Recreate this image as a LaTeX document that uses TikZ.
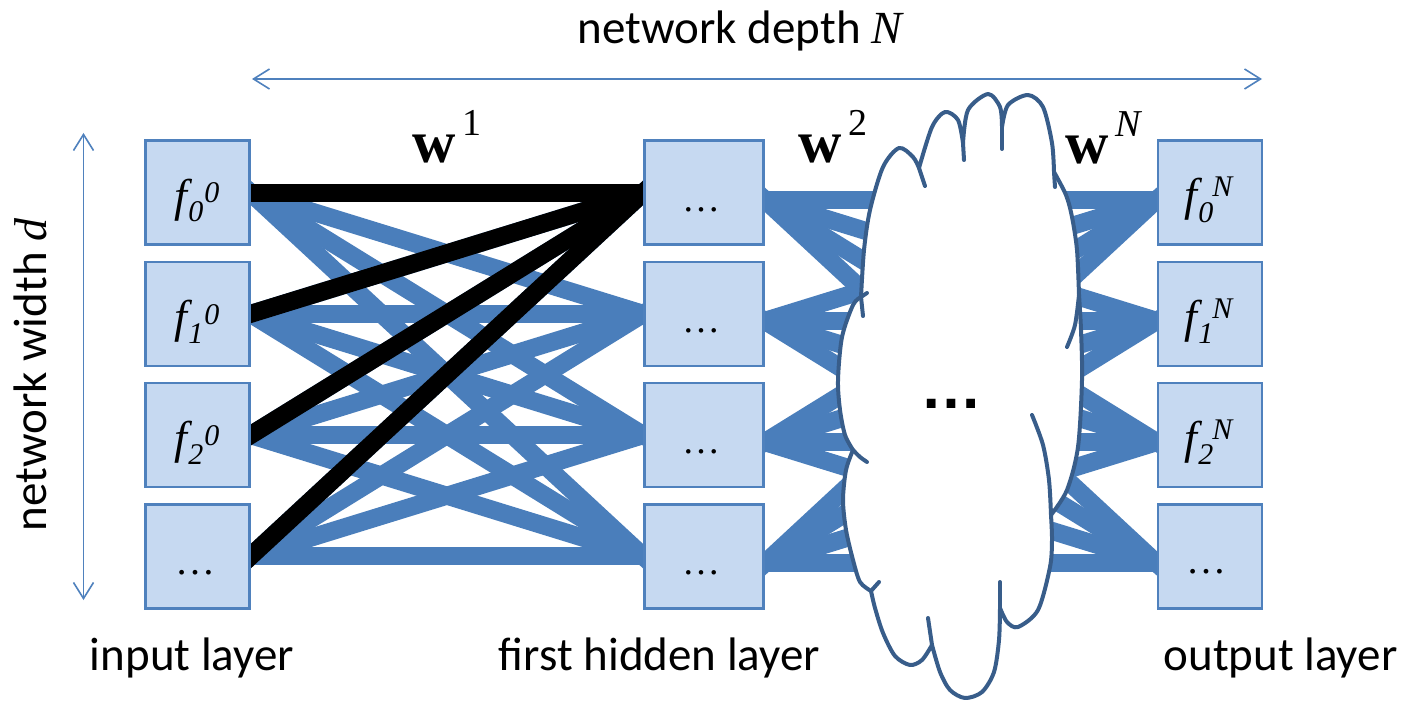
\documentclass[tikz,border=0pt]{standalone}
\usepackage{fontspec}
\setmainfont{Liberation Serif}
\newfontfamily\calib{Carlito}
\newfontfamily\myArial{Liberation Sans}
\usetikzlibrary{arrows.meta,calc}
\definecolor{edgeblue}{HTML}{4A7EBB}
\definecolor{boxfill}{HTML}{C6D9F1}
\definecolor{boxline}{HTML}{4F81BD}
\definecolor{cloudline}{HTML}{385D8A}
\definecolor{arrblue}{HTML}{4F81BD}
\pgfdeclarelayer{background}
\pgfsetlayers{background,main}
% f with subscript #1, superscript #2, kern before sup #3, sup raise #4, sub raise #5
\newcommand\fv[5]{{\rmfamily\itshape\fontsize{46}{46}\selectfont f\kern1.5pt\raisebox{#5}{\fontsize{30}{30}\selectfont #1}\kern#3\raisebox{#4}{\fontsize{30}{30}\selectfont #2}}}
\newcommand\wsup[1]{{\rmfamily\bfseries\fontsize{60}{60}\selectfont w}\kern7pt\raisebox{27pt}{\rmfamily\fontsize{38}{38}\selectfont #1}}
\begin{document}
\begin{tikzpicture}[x=1pt,y=-1pt,
  box/.style={draw=boxline, fill=boxfill, line width=2.5pt, minimum width=104pt, minimum height=104pt, inner sep=0pt},
  hbox/.style={box, minimum width=119pt},
  wire/.style={draw=edgeblue, line width=18pt, shorten <=-8pt, shorten >=-8pt},
  bwire/.style={draw=black, line width=18pt, shorten <=-8pt, shorten >=-8pt},
  dimarrow/.style={draw=arrblue, line width=1.6pt, {Straight Barb[length=16pt,width=20pt]}-{Straight Barb[length=16pt,width=20pt]}},
  lbl/.style={font=\calib\fontsize{47}{56}\selectfont, inner sep=0pt, anchor=base},
  txt/.style={inner sep=0pt, anchor=base west},
  ctr/.style={inner sep=0pt, anchor=base},
  cl/.style={draw=cloudline, line width=4pt, line join=round, line cap=round},
]
\useasboundingbox (0,0) rectangle (1405,703);

% boxes
\foreach \k in {0,...,3} {
  \node[box]  (i\k) at (197.3, 192.7+121.2*\k) {};
  \node[hbox] (h\k) at (704,   192.7+121.2*\k) {};
  \node[box]  (o\k) at (1210,  192.7+121.2*\k) {};
}

% connections
\begin{pgfonlayer}{background}
\foreach \a in {0,...,3} \foreach \b in {0,...,3} \draw[wire] (i\a.east) -- (h\b.west);
\foreach \a in {0,...,3} \draw[bwire] (i\a.east) -- (h0.west);
\foreach \a in {0,...,3} \foreach \b in {0,...,3} \draw[wire] ([yshift=-7pt]h\a.east) -- ([yshift=-7pt]o\b.west);
\end{pgfonlayer}

% cloud
\filldraw[fill=white, cl]
 plot[smooth] coordinates {(861,297) (864,250) (870,210) (883,167) (899,148) (913,157) (919,168)}
 -- plot[smooth] coordinates {(919,168) (932,127) (945,112) (958,120) (963,143)}
 -- plot[smooth] coordinates {(963,143) (968,110) (988,94) (1000,107) (1002,127)}
 -- plot[smooth] coordinates {(1002,127) (1008,105) (1028,95) (1043,107) (1052,143) (1054,172)}
 -- plot[smooth] coordinates {(1054,172) (1066,195) (1072,217) (1077,250) (1079,295)}
 -- plot[smooth] coordinates {(1079,295) (1081,330) (1082,380) (1078,447) (1067,490) (1051,515)}
 -- plot[smooth] coordinates {(1051,515) (1052,540) (1050,567) (1038,610) (1018,627) (1007,622) (1000,608)}
 -- plot[smooth] coordinates {(1000,608) (999,640) (994,672) (982,692) (965,698) (950,690) (940,672) (932,645)}
 -- plot[smooth] coordinates {(932,645) (922,660) (910,665) (895,656) (883,633) (875,608) (871,591)}
 -- plot[smooth] coordinates {(871,591) (860,582) (853,560) (846,530) (843,500) (846,470) (853,450)}
 -- plot[smooth] coordinates {(853,450) (845,435) (840,410) (838,380) (842,337) (853,305) (861,297)}
 -- cycle;
% inner tails of the cloud lobes
\draw[cl] plot[smooth] coordinates {(861,297) (863,316)};
\draw[cl] plot[smooth] coordinates {(919,168) (925,186)};
\draw[cl] plot[smooth] coordinates {(963,143) (964,160)};
\draw[cl] plot[smooth] coordinates {(1002,127) (1002,149)};
\draw[cl] plot[smooth] coordinates {(1054,172) (1055,187)};
\draw[cl] plot[smooth] coordinates {(1079,295) (1075,325) (1067,347)};
\draw[cl] plot[smooth] coordinates {(1032,415) (1043,445) (1049,480) (1051,515)};
\draw[cl] plot[smooth] coordinates {(1000,582) (1000,608)};
\draw[cl] plot[smooth] coordinates {(932,645) (928,618)};
\draw[cl] plot[smooth] coordinates {(871,591) (879,582)};
\draw[cl] plot[smooth] coordinates {(861,297) (867,293)};
\draw[cl] plot[smooth] coordinates {(853,450) (860,457) (867,462)};
\node[ctr] (cdots) at (951,408) {\myArial\bfseries\fontsize{62}{62}\selectfont …};

% box labels
\node[txt] (fi0) at (174,211.5) {\fv{0}{0}{1pt}{8.5pt}{-10.5pt}};
\node[txt] (fi1) at (174,332.7) {\fv{1}{0}{1pt}{8.5pt}{-10.5pt}};
\node[txt] (fi2) at (174,453.9) {\fv{2}{0}{1pt}{8.5pt}{-10.5pt}};
\node[ctr] (di3) at (195,574) {\rmfamily\fontsize{40}{40}\selectfont …};
\foreach \k in {0,...,3}
  \node[ctr] (dh\k) at (701.5, 211.2+121.2*\k) {\rmfamily\fontsize{38}{38}\selectfont …};
\node[txt] (fo0) at (1184,211) {\fv{0}{\itshape N}{-1pt}{14pt}{-11.5pt}};
\node[txt] (fo1) at (1184,332.2) {\fv{1}{\itshape N}{-1pt}{14pt}{-11.5pt}};
\node[txt] (fo2) at (1184,453.4) {\fv{2}{\itshape N}{-1pt}{14pt}{-11.5pt}};
\node[ctr] (do3) at (1206.7,573) {\rmfamily\fontsize{40}{40}\selectfont …};

% weight labels
\node[txt] (w1) at (412,163) {\wsup{1}};
\node[txt] (w2) at (798,163) {\wsup{2}};
\node[txt] (wN) at (1065,164) {\wsup{\itshape N}};

% dimension arrows
\coordinate (hL) at (252,79);
\coordinate (hR) at (1262,79);
\coordinate (vT) at (83.5,133);
\coordinate (vB) at (83.5,600);
\draw[dimarrow] (hL) -- (hR);
\draw[dimarrow] (vT) -- (vB);
\node[lbl] (depth) at (740,43.3) {network depth {\rmfamily\itshape\fontsize{46}{46}\selectfont N}};
\node[lbl, rotate=90] (width) at (46.7,375) {network width {\rmfamily\itshape\fontsize{46}{46}\selectfont d}};

% layer names
\node[lbl] (inl) at (192,670) {input layer};
\node[lbl] (hidl) at (659.5,670) {first hidden layer};
\node[lbl] (outl) at (1280.5,670) {output layer};
\end{tikzpicture}
\end{document}
